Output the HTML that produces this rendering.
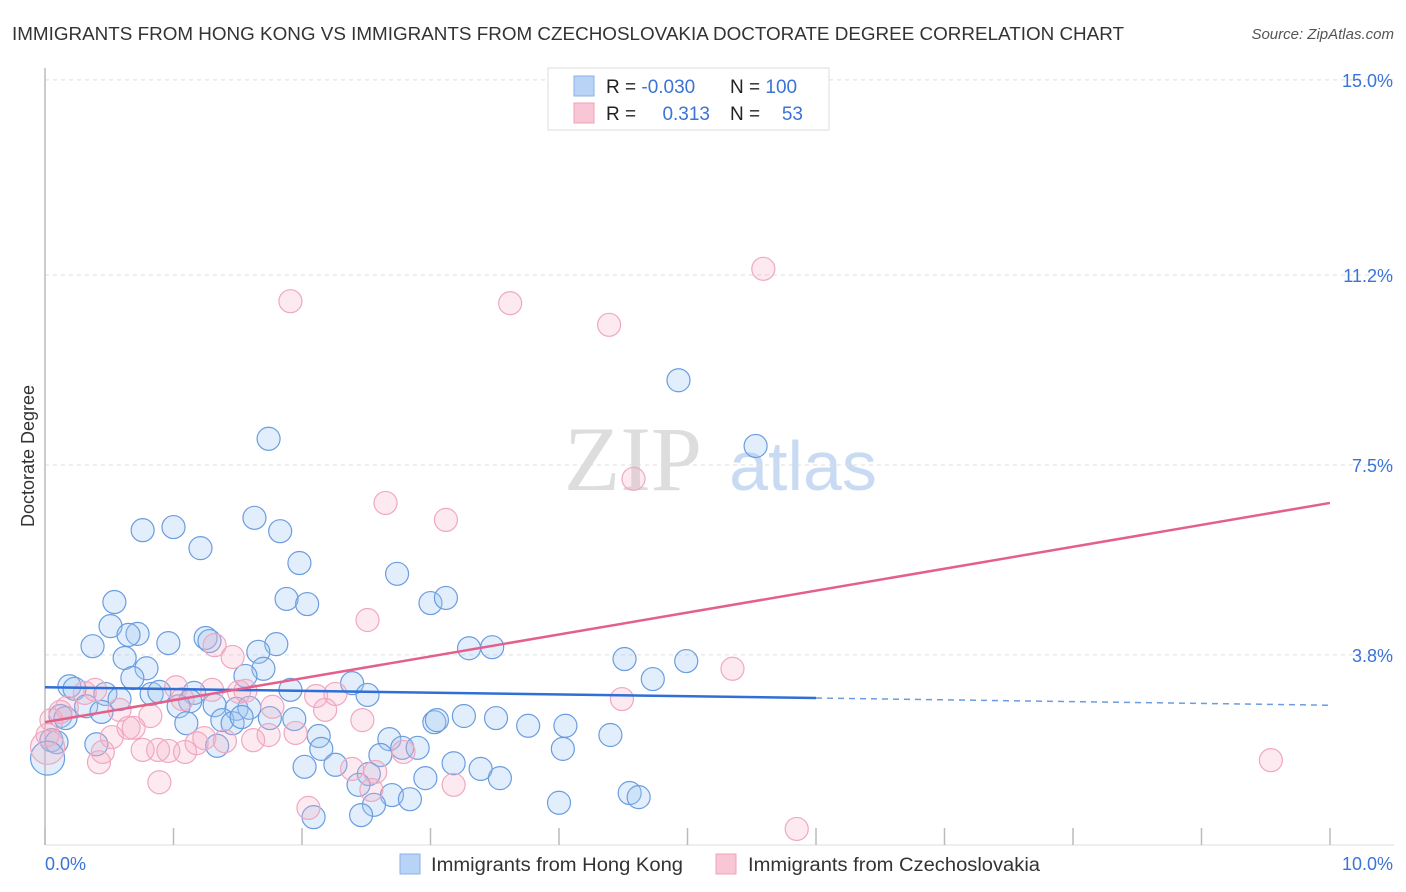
<!DOCTYPE html>
<html><head><meta charset="utf-8"><style>
body{margin:0;background:#fff;font-family:"Liberation Sans",sans-serif;}
svg{display:block}
</style></head><body>
<svg id="chart" width="1406" height="892" xmlns="http://www.w3.org/2000/svg">
<text x="12" y="40" font-size="18.5" fill="#333" textLength="1112" lengthAdjust="spacingAndGlyphs">IMMIGRANTS FROM HONG KONG VS IMMIGRANTS FROM CZECHOSLOVAKIA DOCTORATE DEGREE CORRELATION CHART</text>
<text x="1394" y="39" font-size="15" fill="#555" font-style="italic" text-anchor="end">Source: ZipAtlas.com</text>
<text x="34" y="456" font-size="18" fill="#333" text-anchor="middle" transform="rotate(-90 34 456)">Doctorate Degree</text>
<g>
<text x="633" y="490" font-size="92" fill="#ddd" font-family="Liberation Serif,serif" text-anchor="middle">ZIP</text>
<text x="803" y="490" font-size="70" fill="#c9dbf3" text-anchor="middle">atlas</text>
</g>
<g id="grid"></g>
<g id="marks"></g>
<g>
<rect x="548" y="68" width="281" height="62" fill="#fff" stroke="#ddd"/>
<rect x="574" y="76" width="20" height="20" fill="#b8d3f5" stroke="#8ab2e8"/>
<rect x="574" y="103" width="20" height="20" fill="#f9c6d5" stroke="#f0a3bb"/>
<text x="606" y="93" font-size="19" fill="#222">R = <tspan fill="#3b73d6">-0.030</tspan></text>
<text x="730" y="93" font-size="19" fill="#222">N = <tspan fill="#3b73d6">100</tspan></text>
<text x="606" y="120" font-size="19" fill="#222">R = </text><text x="710" y="120" font-size="19" fill="#3b73d6" text-anchor="end">0.313</text>
<text x="730" y="120" font-size="19" fill="#222">N = </text><text x="803" y="120" font-size="19" fill="#3b73d6" text-anchor="end">53</text>
</g>
<g>
<rect x="400" y="854" width="20" height="20" fill="#b8d3f5" stroke="#8ab2e8"/>
<text x="431" y="871" font-size="19" fill="#333" textLength="252" lengthAdjust="spacingAndGlyphs">Immigrants from Hong Kong</text>
<rect x="716" y="854" width="20" height="20" fill="#f9c6d5" stroke="#f0a3bb"/>
<text x="748" y="871" font-size="19" fill="#333" textLength="292" lengthAdjust="spacingAndGlyphs">Immigrants from Czechoslovakia</text>
</g>
</svg>
<script>
const yTicks = [15.0, 11.2, 7.5, 3.8];
const yTickLabels = ["15.0%", "11.2%", "7.5%", "3.8%"];
const xTickValues = [0,1,2,3,4,5,6,7,8,9,10];
const xEndLabels = ["0.0%", "10.0%"];
const blueX = [1.74,4.93,5.53,0.76,1.00,1.63,1.83,1.21,1.98,2.74,0.54,1.88,2.04,3.00,3.12,0.51,0.72,0.65,0.37,0.96,1.25,1.28,1.80,1.66,3.30,3.48,0.62,0.79,1.70,4.51,4.99,0.68,1.56,2.39,0.19,0.23,0.47,0.58,0.83,0.89,1.16,1.13,1.91,2.51,4.73,0.32,0.44,1.04,1.32,1.49,1.59,1.38,1.46,1.53,1.10,1.75,1.94,3.03,3.05,3.26,3.51,3.76,4.05,0.12,0.16,0.05,0.09,0.02,0.40,1.34,2.13,2.15,2.68,2.61,2.78,2.90,4.03,4.40,2.02,2.26,2.52,3.18,3.39,3.54,2.96,2.44,2.70,2.84,2.56,4.00,4.55,4.62,2.09,2.46];
const blueY = [8.01,9.15,7.87,6.23,6.29,6.47,6.21,5.88,5.59,5.38,4.83,4.89,4.79,4.81,4.91,4.36,4.21,4.19,3.97,4.03,4.13,4.07,4.01,3.86,3.93,3.95,3.74,3.54,3.53,3.72,3.68,3.35,3.39,3.25,3.19,3.14,3.04,2.94,3.04,3.08,3.06,2.90,3.12,3.02,3.33,2.80,2.69,2.80,2.82,2.75,2.77,2.53,2.47,2.59,2.47,2.57,2.55,2.49,2.53,2.61,2.57,2.42,2.42,2.61,2.57,2.14,2.10,1.79,2.06,2.03,2.22,1.97,2.16,1.85,1.99,1.99,1.97,2.24,1.62,1.66,1.48,1.69,1.58,1.40,1.40,1.27,1.07,0.99,0.88,0.92,1.11,1.03,0.64,0.68];
const pinkX = [1.91,3.62,4.39,5.59,2.65,3.12,4.58,2.51,1.32,1.46,5.35,1.02,1.30,1.51,1.56,2.11,2.26,4.49,0.31,0.39,0.17,0.12,0.58,0.82,1.07,1.77,2.18,2.47,0.05,0.02,0.65,0.69,0.52,1.24,1.40,1.74,1.95,0.76,0.88,0.96,1.09,1.18,1.62,0.45,0.42,0.89,2.39,2.57,2.79,2.05,2.54,3.18,5.85,9.54,0.02];
const pinkY = [10.69,10.65,10.23,11.32,6.76,6.43,7.23,4.48,3.99,3.76,3.53,3.17,3.12,3.08,3.10,3.00,3.04,2.94,3.06,3.12,2.77,2.69,2.73,2.61,2.94,2.79,2.73,2.53,2.53,2.24,2.38,2.38,2.20,2.18,2.12,2.24,2.28,1.95,1.95,1.93,1.91,2.08,2.14,1.91,1.71,1.32,1.58,1.52,1.91,0.82,1.17,1.27,0.41,1.75,2.00];
const blueTrend = [3.17, 2.82];
const blueSolidEnd = 6.0;
const pinkTrend = [2.49, 6.76];

const NS = "http://www.w3.org/2000/svg";
const X0 = 45, X1 = 1330, Y0 = 850, PX_PER = 51.34;
function sx(v){ return X0 + (X1 - X0) * v / 10; }
function sy(v){ return Y0 - v * PX_PER; }
function mk(tag, attrs, parent){ const e = document.createElementNS(NS, tag); for (const k in attrs) e.setAttribute(k, attrs[k]); parent.appendChild(e); return e; }
const grid = document.getElementById('grid');
const marks = document.getElementById('marks');

yTicks.forEach((t, i) => {
  const l = mk('line', {x1: 45, x2: 1394, y1: sy(t), y2: sy(t), stroke: '#ddd', 'stroke-dasharray': '4,4'}, grid);
  
  
  const tx = mk('text', {x: 1393, y: sy(t) + 7, 'font-size': 18, fill: '#3b73d6', 'text-anchor': 'end'}, grid);
  tx.textContent = yTickLabels[i];
  
  
});
const ax = mk('line', {x1: 45, x2: 45, y1: 68, y2: 845, stroke: '#bbb', 'stroke-width': 1.5}, grid);


const bx = mk('line', {x1: 45, x2: 1394, y1: 845, y2: 845, stroke: '#ddd', 'stroke-width': 1}, grid);


xTickValues.forEach(v => {
  const t = mk('line', {x1: sx(v), x2: sx(v), y1: 828, y2: 845, stroke: '#bbb', 'stroke-width': 1.5}, grid);
  
  
});
const xl0 = mk('text', {x: 45, y: 870, 'font-size': 18, fill: '#3b73d6'}, grid);
xl0.textContent = xEndLabels[0];


const xl1 = mk('text', {x: 1393, y: 870, 'font-size': 18, fill: '#3b73d6', 'text-anchor': 'end'}, grid);
xl1.textContent = xEndLabels[1];



blueX.forEach((v, i) => {
  const c = mk('circle', {cx: sx(v), cy: sy(blueY[i]), r: i === 67 ? 17 : 11.5, fill: 'rgba(160,198,242,0.3)', stroke: '#6a9de0', 'stroke-width': 1.2}, marks);
  
  
});
pinkX.forEach((v, i) => {
  const c = mk('circle', {cx: sx(v), cy: sy(pinkY[i]), r: i === 54 ? 17 : 11.5, fill: 'rgba(245,170,195,0.25)', stroke: '#efa8c0', 'stroke-width': 1.2}, marks);
  
  
});
function bAt(x){ return blueTrend[0] + (blueTrend[1] - blueTrend[0]) * x / 10; }
const bl = mk('line', {x1: sx(0), y1: sy(bAt(0)), x2: sx(blueSolidEnd), y2: sy(bAt(blueSolidEnd)), stroke: '#2f6fd6', 'stroke-width': 2.5}, marks);


const bd = mk('line', {x1: sx(blueSolidEnd), y1: sy(bAt(blueSolidEnd)), x2: sx(10), y2: sy(bAt(10)), stroke: '#6b9be0', 'stroke-width': 1.5, 'stroke-dasharray': '6,5'}, marks);


const pl = mk('line', {x1: sx(0), y1: sy(pinkTrend[0]), x2: sx(10), y2: sy(pinkTrend[1]), stroke: '#e4608a', 'stroke-width': 2.5}, marks);


</script>
</body></html>
